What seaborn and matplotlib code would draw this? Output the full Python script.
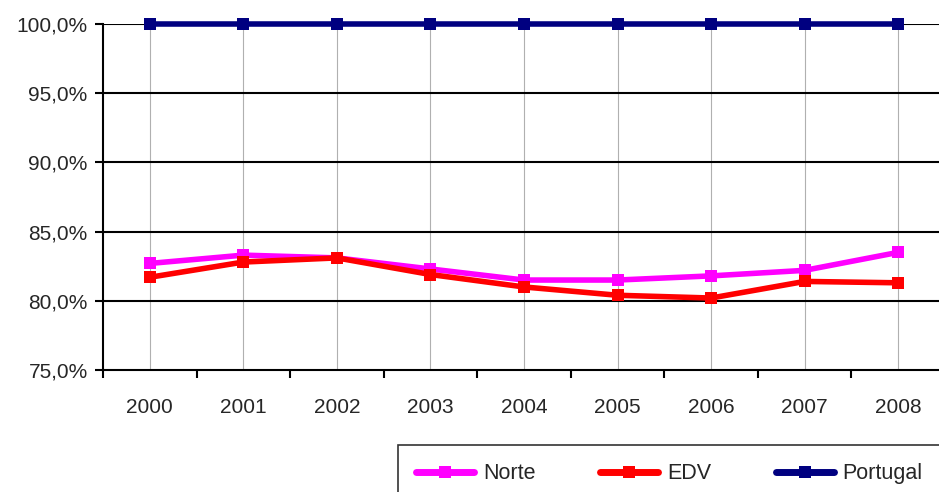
import pandas as pd
import matplotlib
matplotlib.use("Agg")
import matplotlib.pyplot as plt
import seaborn as sns
from matplotlib.ticker import FuncFormatter

# Data
years = ["2000", "2001", "2002", "2003", "2004", "2005", "2006", "2007", "2008"]
norte = [82.7, 83.3, 83.1, 82.3, 81.5, 81.5, 81.8, 82.2, 83.5]
edv = [81.7, 82.8, 83.1, 81.9, 81.0, 80.4, 80.2, 81.4, 81.3]
portugal = [100.0] * 9

series = ["Norte", "EDV", "Portugal"]
colors = {"Norte": "#FF00FF", "EDV": "#FF0000", "Portugal": "#000080"}

df = pd.DataFrame({"year": years * 3,
                   "value": norte + edv + portugal,
                   "serie": ["Norte"] * 9 + ["EDV"] * 9 + ["Portugal"] * 9})

sns.set_style("white")
plt.rcParams["font.family"] = ["Liberation Sans", "DejaVu Sans"]
plt.rcParams["font.size"] = 15

fig = plt.figure(figsize=(9.39, 4.92), dpi=100)
ax = fig.add_axes([103 / 939, 1 - 370 / 492, 842 / 939, 346 / 492])

sns.lineplot(data=df, x="year", y="value", hue="serie", hue_order=series,
             palette=colors, marker="s", markersize=9, markeredgewidth=0,
             linewidth=4, ax=ax, sort=False, zorder=3)
for ln in ax.lines:
    ln.set_clip_on(False)

ax.set_ylim(75, 100)
ax.set_xlim(-0.5, 8.5)
ax.set_yticks([75, 80, 85, 90, 95, 100])
ax.yaxis.set_major_formatter(FuncFormatter(lambda v, p: f"{v:.1f}%".replace(".", ",")))
ax.set_xlabel("")
ax.set_ylabel("")

# gridlines: black horizontals, light gray verticals at categories
ax.grid(False)
for y in [80, 85, 90, 95, 100]:
    ax.axhline(y, color="black", lw=1.5, zorder=1)
for i in range(len(years)):
    ax.axvline(i, color="#b0b0b0", lw=0.8, zorder=0)

for s in ["top", "right"]:
    ax.spines[s].set_visible(False)
for s in ["left", "bottom"]:
    ax.spines[s].set_color("black")
    ax.spines[s].set_linewidth(1.5)

ax.tick_params(axis="y", which="major", length=6, width=1.5, color="black",
               direction="out", left=True, pad=5)
ax.set_xticks(range(len(years)))
ax.set_xticks([i - 0.5 for i in range(len(years) + 1)], minor=True)
ax.tick_params(axis="x", which="major", length=0, pad=20)
ax.tick_params(axis="x", which="minor", length=6, width=1.5, color="black",
               direction="out", bottom=True)

ax.legend_.remove()
handles, labels = ax.get_legend_handles_labels()
for h in handles:
    h.set_linewidth(5)
leg = fig.legend(handles, labels, loc="upper left", ncol=3,
                 bbox_to_anchor=(398 / 939, 1 - 445 / 492),
                 bbox_transform=fig.transFigure, frameon=True, fancybox=False,
                 edgecolor="black", handlelength=2.7, handletextpad=0.4,
                 columnspacing=3.0, borderpad=0.85, borderaxespad=0,
                 fontsize=15.5)
leg.get_frame().set_linewidth(1.2)

fig.savefig("out.png", dpi=100)
